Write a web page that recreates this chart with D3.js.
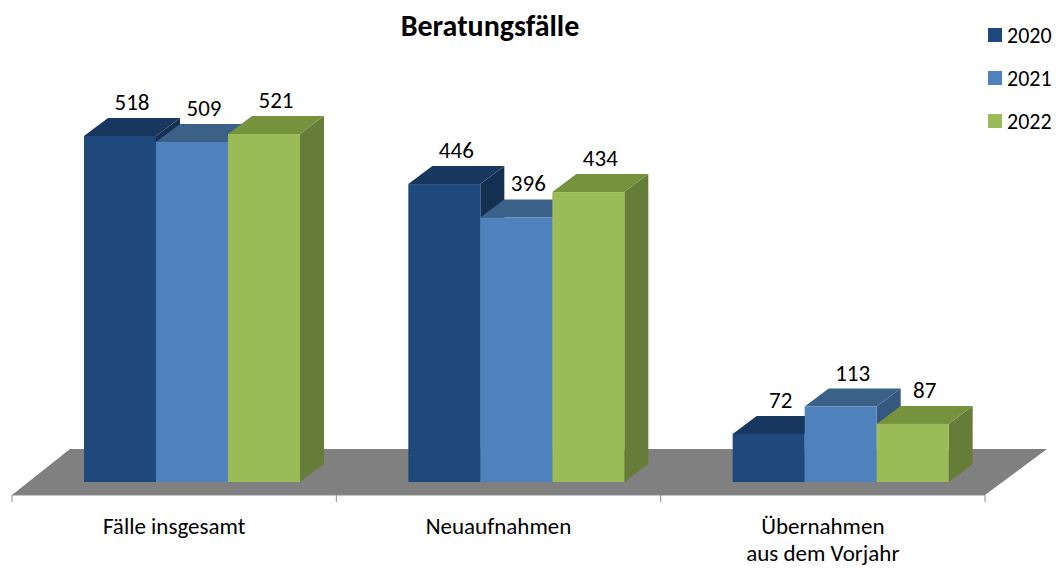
<!DOCTYPE html>
<html>
<head>
<meta charset="utf-8">
<script src="https://cdn.jsdelivr.net/npm/d3@7"></script>
<style>
  body { margin: 0; background: #fff; }
  svg { font-family: Carlito, "Open Sans", "Noto Sans", sans-serif; }
</style>
</head>
<body>
<svg id="chart" width="1064" height="569"></svg>
<script>
var categories = ['Fälle insgesamt', 'Neuaufnahmen', 'Übernahmen\naus dem Vorjahr'];
var years = ['2020', '2021', '2022'];
var values2020 = [518, 446, 72];
var values2021 = [509, 396, 113];
var values2022 = [521, 434, 87];
var series = [values2020, values2021, values2022];

var faceColors = ['#1f497d', '#4f81bd', '#9bbb59'];
var topColors = ['#17375e', '#3b6189', '#76923c'];
var sideColors = ['#152f50', '#36587f', '#657d38'];

var svg = d3.select('#chart');

// floor geometry
var frontY = 495, backY = 449, frontX0 = 12, frontX1 = 985;
var depthX = 58;
// bars sit a bit behind the front edge
var barBase = 482;
var dx = 24, dy = -18;

var x = d3.scaleBand().domain(categories).range([frontX0, frontX1]);
var xSub = d3.scaleBand().domain(years).range([72, 288]);
var y = d3.scaleLinear().domain([0, 600]).range([barBase, barBase - 0.668 * 600]);

// floor
svg.append('polygon')
    .attr('points', [[frontX0, frontY], [frontX0 + depthX, backY], [frontX1 + depthX + 4, backY], [frontX1, frontY]].join(' '))
    .attr('fill', '#808080');

// axis ticks along the front edge
var axisG = svg.append('g').attr('transform', 'translate(0,' + frontY + ')');
axisG.append('line').attr('x1', frontX0).attr('x2', frontX1).attr('stroke', '#8c8c8c');
var bounds = categories.map(function(c) { return x(c); }).concat([frontX1]);
axisG.selectAll('line.tick').data(bounds).enter().append('line')
    .attr('class', 'tick')
    .attr('x1', function(d) { return d; }).attr('x2', function(d) { return d; })
    .attr('y1', 0).attr('y2', 7)
    .attr('stroke', '#8c8c8c');

// bars
categories.forEach(function(cat, ci) {
    years.forEach(function(yr, si) {
        var v = series[si][ci];
        var x0 = x(cat) + xSub(yr);
        var x1 = x0 + xSub.bandwidth();
        var yt = y(v);
        var g = svg.append('g');
        g.append('polygon')
            .attr('points', [[x1, yt], [x1 + dx, yt + dy], [x1 + dx, barBase + dy], [x1, barBase]].join(' '))
            .attr('fill', sideColors[si]);
        g.append('polygon')
            .attr('points', [[x0, yt], [x0 + dx, yt + dy], [x1 + dx, yt + dy], [x1, yt]].join(' '))
            .attr('fill', topColors[si]);
        g.append('rect')
            .attr('x', x0).attr('y', yt)
            .attr('width', x1 - x0).attr('height', barBase - yt)
            .attr('fill', faceColors[si]);
        g.append('text')
            .attr('x', (x0 + x1) / 2 + dx / 2)
            .attr('y', yt + dy - 8)
            .attr('text-anchor', 'middle')
            .attr('font-size', 23)
            .attr('fill', '#000')
            .text(v);
    });
});

// category labels
categories.forEach(function(cat) {
    var cx = x(cat) + x.bandwidth() / 2;
    var t = svg.append('text')
        .attr('x', cx)
        .attr('y', 534)
        .attr('text-anchor', 'middle')
        .attr('font-size', 23)
        .attr('fill', '#000');
    cat.split('\n').forEach(function(line, i) {
        t.append('tspan').attr('x', cx).attr('dy', i ? 27 : 0).text(line);
    });
});

// title
svg.append('text')
    .attr('x', 490).attr('y', 36)
    .attr('text-anchor', 'middle')
    .attr('font-size', 30).attr('font-weight', 'bold')
    .text('Beratungsfälle');

// legend
var legend = svg.append('g').attr('transform', 'translate(988,28)');
years.forEach(function(yr, i) {
    legend.append('rect').attr('x', 0).attr('y', i * 43).attr('width', 14).attr('height', 14).attr('fill', faceColors[i]);
    legend.append('text').attr('x', 19).attr('y', i * 43 + 15).attr('font-size', 22).text(yr);
});
</script>
</body>
</html>
